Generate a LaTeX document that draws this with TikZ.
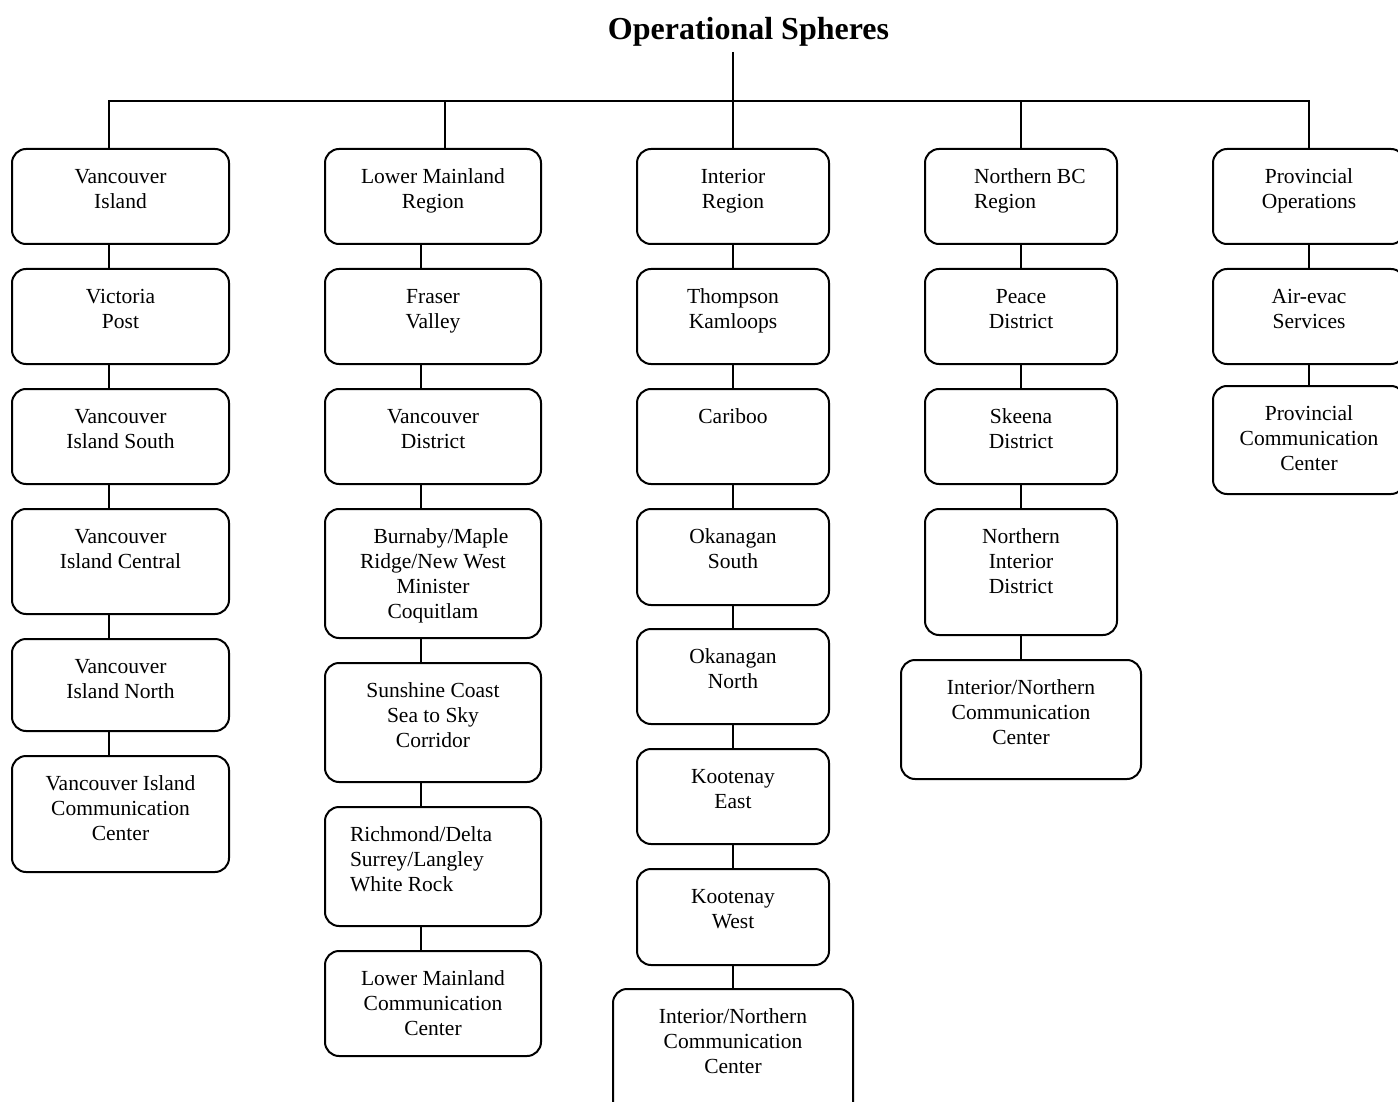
\documentclass[tikz,border=0pt]{standalone}
\usepackage{fontspec}
\setmainfont{Liberation Serif}
\usetikzlibrary{calc}
\tikzset{
  bx/.style={draw, line width=2pt, rounded corners=14pt, inner sep=0pt, outer sep=0pt, anchor=north west},
  ln/.style={line width=2pt},
  every node/.style={font=\fontsize{21.5}{25}\selectfont},
}
\newcommand\bt[3]{\parbox[t][#2pt][t]{#1pt}{\centering\vspace*{17pt}\strut#3}}
\newcommand\btl[4]{\parbox[t][#2pt][t]{#1pt}{\raggedright\leftskip=#4pt\relax\vspace*{17pt}\strut#3}}
\begin{document}
\begin{tikzpicture}[x=1pt,y=-1pt]
\useasboundingbox (0,0) rectangle (1398,1102);
% column axes
\coordinate (c1) at (109,0);
\coordinate (c2t) at (445,0);
\coordinate (c2) at (421,0);
\coordinate (c3) at (733,0);
\coordinate (c4) at (1021,0);
\coordinate (c5) at (1309,0);
\coordinate (bus) at (0,101);
\coordinate (tl) at (733,52);
% title
\node[font=\fontsize{32}{36}\bfseries\selectfont, anchor=base, inner sep=0pt] (title) at (748.5,40) {Operational Spheres};
% column 1
\node[bx] (vi) at (12,149) {\bt{217}{95}{Vancouver\\Island}};
\node[bx] (vp) at (12,269) {\bt{217}{95}{Victoria\\Post}};
\node[bx] (vis) at (12,389) {\bt{217}{95}{Vancouver\\Island South}};
\node[bx] (vic) at (12,509) {\bt{217}{105}{Vancouver\\Island Central}};
\node[bx] (vin) at (12,639) {\bt{217}{92}{Vancouver\\Island North}};
\node[bx] (vicc) at (12,756) {\bt{217}{116}{Vancouver Island\\Communication\\Center}};
% column 2
\node[bx] (lmr) at (325,149) {\bt{216}{95}{Lower Mainland\\Region}};
\node[bx] (fv) at (325,269) {\bt{216}{95}{Fraser\\Valley}};
\node[bx] (vd) at (325,389) {\bt{216}{95}{Vancouver\\District}};
\node[bx] (bur) at (325,509) {\bt{216}{129}{\hspace*{16pt}Burnaby/Maple\\Ridge/New West\\Minister\\Coquitlam}};
\node[bx] (sun) at (325,663) {\bt{216}{119}{Sunshine Coast\\Sea to Sky\\Corridor}};
\node[bx] (rich) at (325,807) {\btl{216}{119}{Richmond/Delta\\Surrey/Langley\\White Rock}{25}};
\node[bx] (lmcc) at (325,951) {\bt{216}{105}{Lower Mainland\\Communication\\Center}};
% column 3
\node[bx] (ir) at (637,149) {\bt{192}{95}{Interior\\Region}};
\node[bx] (tk) at (637,269) {\bt{192}{95}{Thompson\\Kamloops}};
\node[bx] (car) at (637,389) {\bt{192}{95}{Cariboo}};
\node[bx] (oks) at (637,509) {\bt{192}{96}{Okanagan\\South}};
\node[bx] (okn) at (637,629) {\bt{192}{95}{Okanagan\\North}};
\node[bx] (ke) at (637,749) {\bt{192}{95}{Kootenay\\East}};
\node[bx] (kw) at (637,869) {\bt{192}{96}{Kootenay\\West}};
\node[bx] (incc) at (613,989) {\bt{240}{130}{Interior/Northern\\Communication\\Center}};
% column 4
\node[bx] (nbr) at (925,149) {\btl{192}{95}{Northern BC\\Region}{49}};
\node[bx] (pd) at (925,269) {\bt{192}{95}{Peace\\District}};
\node[bx] (sd) at (925,389) {\bt{192}{95}{Skeena\\District}};
\node[bx] (nid) at (925,509) {\bt{192}{126}{Northern\\Interior\\District}};
\node[bx] (incc2) at (901,660) {\bt{240}{119}{Interior/Northern\\Communication\\Center}};
% column 5
\node[bx] (po) at (1213,149) {\bt{192}{95}{Provincial\\Operations}};
\node[bx] (ae) at (1213,269) {\bt{192}{95}{Air-evac\\Services}};
\node[bx] (pcc) at (1213,386) {\bt{192}{108}{Provincial\\Communication\\Center}};
% top connectors
\draw[ln] (tl) -- (bus -| c3) -- (ir.north -| c3);
\draw[ln] (vi.north -| c1) -- (bus -| c1) -- (bus -| c5) -- (po.north -| c5);
\draw[ln] (bus -| c2t) -- (lmr.north -| c2t);
\draw[ln] (bus -| c4) -- (nbr.north -| c4);
% column 1 connectors
\draw[ln] (vi.south -| c1) -- (vp.north -| c1);
\draw[ln] (vp.south -| c1) -- (vis.north -| c1);
\draw[ln] (vis.south -| c1) -- (vic.north -| c1);
\draw[ln] (vic.south -| c1) -- (vin.north -| c1);
\draw[ln] (vin.south -| c1) -- (vicc.north -| c1);
% column 2 connectors
\draw[ln] (lmr.south -| c2) -- (fv.north -| c2);
\draw[ln] (fv.south -| c2) -- (vd.north -| c2);
\draw[ln] (vd.south -| c2) -- (bur.north -| c2);
\draw[ln] (bur.south -| c2) -- (sun.north -| c2);
\draw[ln] (sun.south -| c2) -- (rich.north -| c2);
\draw[ln] (rich.south -| c2) -- (lmcc.north -| c2);
% column 3 connectors
\draw[ln] (ir.south -| c3) -- (tk.north -| c3);
\draw[ln] (tk.south -| c3) -- (car.north -| c3);
\draw[ln] (car.south -| c3) -- (oks.north -| c3);
\draw[ln] (oks.south -| c3) -- (okn.north -| c3);
\draw[ln] (okn.south -| c3) -- (ke.north -| c3);
\draw[ln] (ke.south -| c3) -- (kw.north -| c3);
\draw[ln] (kw.south -| c3) -- (incc.north -| c3);
% column 4 connectors
\draw[ln] (nbr.south -| c4) -- (pd.north -| c4);
\draw[ln] (pd.south -| c4) -- (sd.north -| c4);
\draw[ln] (sd.south -| c4) -- (nid.north -| c4);
\draw[ln] (nid.south -| c4) -- (incc2.north -| c4);
% column 5 connectors
\draw[ln] (po.south -| c5) -- (ae.north -| c5);
\draw[ln] (ae.south -| c5) -- (pcc.north -| c5);
\end{tikzpicture}
\end{document}
